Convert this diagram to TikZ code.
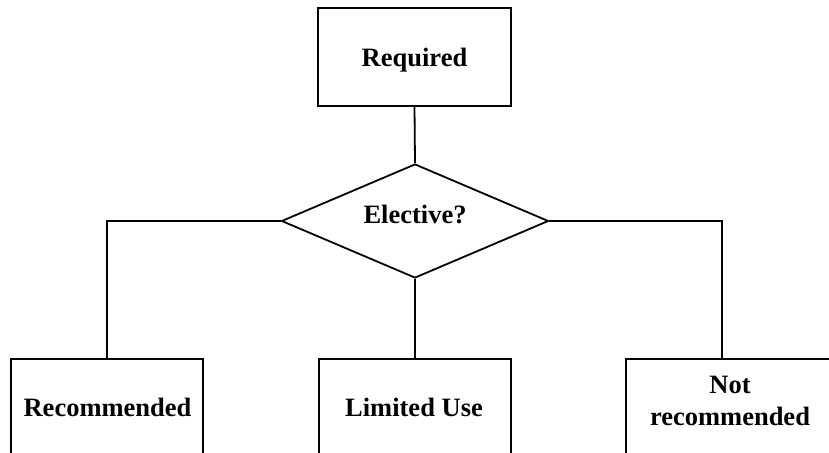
\documentclass[tikz,border=0pt]{standalone}
\usepackage{fontspec}
\setmainfont{Liberation Serif}
\usetikzlibrary{shapes.geometric}
\begin{document}
\begin{tikzpicture}[x=1pt,y=-1pt,
  frame/.style={draw=black, line width=1.8pt, rectangle, inner sep=0pt},
  caption/.style={font=\fontsize{26.5}{32}\selectfont\bfseries, inner sep=0pt, align=center},
  link/.style={draw=black, line width=1.8pt}]
\clip (0,0) rectangle (829,452);
\fill[white] (0,0) rectangle (829,452);

% top box
\node[frame, minimum width=193pt, minimum height=98pt] (req) at (414.5,57) {};
\node[caption, anchor=base] (reqtext) at (414.5,66.5) {Required};

% decision
\node[draw=black, diamond, line width=1.8pt, minimum width=267pt, minimum height=114pt,
      aspect=2.34, inner sep=0pt] (choice) at (415,221) {};
\node[caption, anchor=base] (choicetext) at (415,223.3) {Elective?};

% outcome boxes (running off the lower edge)
\node[frame, minimum width=192pt, minimum height=200pt, anchor=north] (rec) at (107,357.7) {};
\node[frame, minimum width=192pt, minimum height=200pt, anchor=north] (lim) at (415,357.7) {};
\node[frame, minimum width=208pt, minimum height=200pt, anchor=north] (notrec) at (730,357.7) {};
\node[caption, anchor=base] (rectext) at (107.5,416) {Recommended};
\node[caption, anchor=base] (limtext) at (414,416.5) {Limited Use};
\node[caption] (notrectext) at (730,400.5) {Not\\recommended};

% connectors
\coordinate (lj) at (107,221);
\coordinate (rj) at (722,221);
\draw[link] (req.south) -- (choice.north);
\draw[link] (choice.west) -- (lj) -- (lj |- rec.north);
\draw[link] (choice.south) -- (lim.north);
\draw[link] (choice.east) -- (rj) -- (rj |- notrec.north);
\end{tikzpicture}
\end{document}
